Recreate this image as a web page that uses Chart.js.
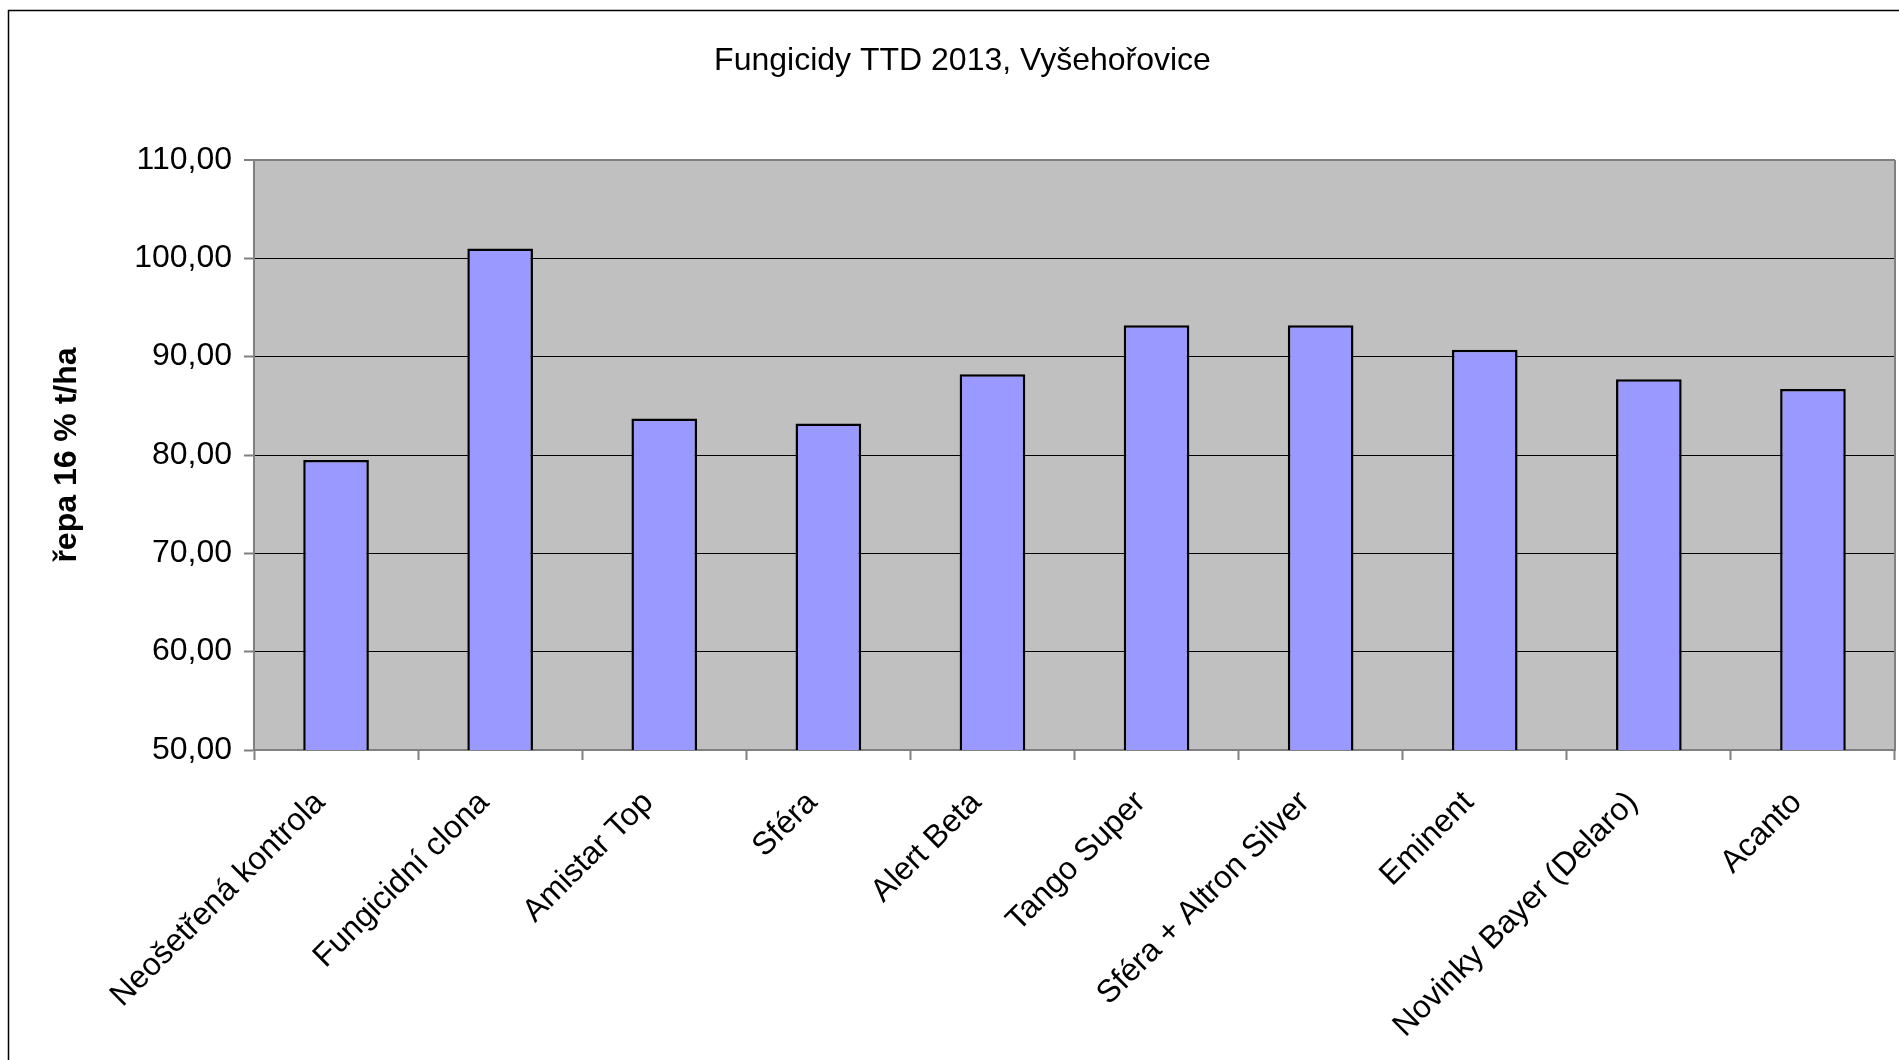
<!DOCTYPE html>
<html lang="cs">
<head>
<meta charset="utf-8">
<title>Fungicidy TTD 2013, Vyšehořovice</title>
<script src="https://cdn.jsdelivr.net/npm/chart.js@4/dist/chart.umd.min.js"></script>
<style>
	html, body { margin: 0; padding: 0; background: #fff; overflow: hidden; }
	#wrap { position: relative; width: 1899px; height: 1060px; }
</style>
</head>
<body>
<div id="wrap"><canvas id="yieldChart" width="1899" height="1060"></canvas></div>
<script>
const chartTitle = 'Fungicidy TTD 2013, Vyšehořovice';
const axisTitle = 'řepa 16 % t/ha';
const variants = [
	'Neošetřená kontrola',
	'Fungicidní clona',
	'Amistar Top',
	'Sféra',
	'Alert Beta',
	'Tango Super',
	'Sféra + Altron Silver',
	'Eminent',
	'Novinky Bayer (Delaro)',
	'Acanto',
];
const yieldValues = [79.5, 101.0, 83.7, 83.2, 88.2, 93.2, 93.2, 90.7, 87.7, 86.7];
const yTicks = [50, 60, 70, 80, 90, 100, 110];

const FONT = '"Liberation Sans", Arial, sans-serif';

// grey plot area, its right border and the outer frame of the chart object
const plotArea = {
	id: 'plotArea',
	beforeDraw(chart) {
		const { ctx, chartArea: a } = chart;
		ctx.save();
		ctx.fillStyle = '#c0c0c0';
		ctx.fillRect(a.left, a.top, a.right - a.left, a.bottom - a.top);
		ctx.restore();
	},
	afterDraw(chart) {
		const { ctx, chartArea: a } = chart;
		ctx.save();
		ctx.strokeStyle = '#808080';
		ctx.lineWidth = 2;
		ctx.beginPath();
		ctx.moveTo(a.right, a.top);
		ctx.lineTo(a.right, a.bottom);
		ctx.stroke();
		ctx.strokeStyle = '#000';
		ctx.lineWidth = 1.5;
		ctx.strokeRect(8.5, 10.5, 2400, 2400);
		ctx.restore();
	},
};

const ctx = document.getElementById('yieldChart').getContext('2d');
// eslint-disable-next-line no-new
new Chart(ctx, {
	type: 'bar',
	data: {
		labels: variants,
		datasets: [
			{
				data: yieldValues,
				backgroundColor: '#9999ff',
				borderColor: '#000',
				borderWidth: 2.5,
				borderSkipped: false,
				barPercentage: 0.4,
				categoryPercentage: 1,
			},
		],
	},
	options: {
		responsive: false,
		animation: false,
		layout: { padding: { left: 30, right: 4, top: 0, bottom: 0 } },
		plugins: {
			legend: { display: false },
			tooltip: { enabled: false },
			title: {
				display: true,
				text: chartTitle,
				color: '#000',
				font: { family: FONT, size: 32, weight: 'normal' },
				padding: { top: 42, bottom: 79.6 },
			},
		},
		scales: {
			x: {
				afterFit: (scale) => { scale.height = 310; },
				border: { color: '#808080', width: 2 },
				grid: {
					offset: true,
					drawOnChartArea: false,
					drawTicks: true,
					tickLength: 10,
					tickColor: '#808080',
					tickWidth: 2,
				},
				ticks: {
					autoSkip: false,
					minRotation: 45,
					maxRotation: 45,
					padding: 24,
					labelOffset: -16,
					color: '#000',
					font: { family: FONT, size: 32 },
				},
			},
			y: {
				min: 50,
				max: 110,
				afterFit: (scale) => { scale.width = 224; },
				afterBuildTicks: (scale) => {
					scale.ticks = yTicks.map((v) => ({ value: v }));
				},
				border: { color: '#808080', width: 2 },
				grid: {
					color: (c) => (c.tick && c.tick.value === 110 ? '#808080' : '#000'),
					lineWidth: (c) => (c.tick && c.tick.value === 110 ? 2 : 1),
					drawTicks: true,
					tickLength: 10,
					tickColor: '#808080',
					tickWidth: 2,
				},
				ticks: {
					padding: 12,
					color: '#000',
					font: { family: FONT, size: 32 },
					callback: (v) => Number(v).toFixed(2).replace('.', ','),
				},
				title: {
					display: true,
					text: axisTitle,
					color: '#000',
					font: { family: FONT, size: 32, weight: 'bold' },
					padding: { top: 18, bottom: 0 },
				},
			},
		},
	},
	plugins: [plotArea],
});
</script>
</body>
</html>
